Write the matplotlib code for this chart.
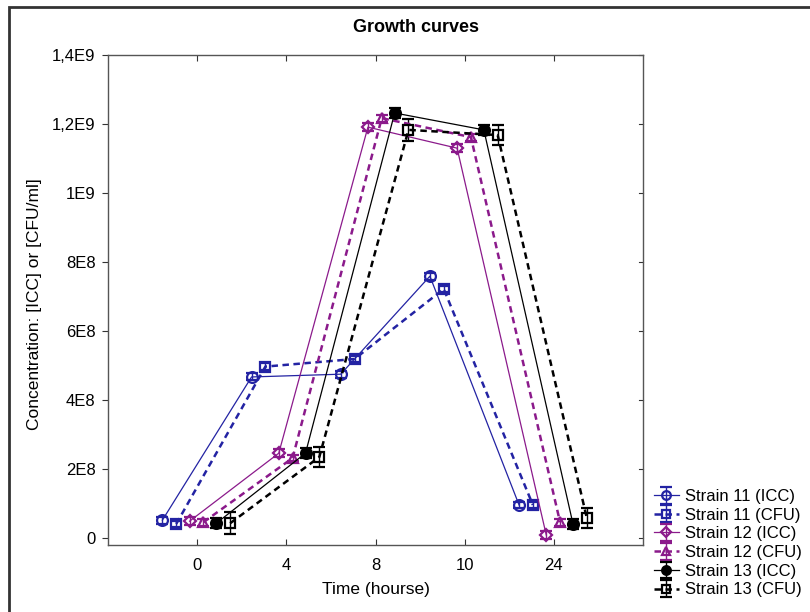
import matplotlib
matplotlib.use("Agg")
import matplotlib.pyplot as plt
from matplotlib.patches import Rectangle
import numpy as np

plt.rcParams['font.family'] = ['Liberation Sans', 'DejaVu Sans']

# Sampling times (shown as evenly spaced categories)
time_labels = ["0", "4", "8", "10", "24"]

# Y axis ticks and their labels (comma decimal)
y_ticks = [0, 2e8, 4e8, 6e8, 8e8, 1e9, 1.2e9, 1.4e9]
y_tick_labels = ["0", "2E8", "4E8", "6E8", "8E8", "1E9", "1,2E9", "1,4E9"]

# Concentrations per strain and method
s11_icc = [5.2e7, 4.67e8, 4.75e8, 7.59e8, 9.6e7]
s11_cfu = [4.1e7, 4.97e8, 5.19e8, 7.22e8, 9.6e7]
s12_icc = [4.9e7, 2.46e8, 1.191e9, 1.130e9, 9e6]
s12_cfu = [4.6e7, 2.32e8, 1.217e9, 1.162e9, 4.6e7]
s13_icc = [4.3e7, 2.46e8, 1.232e9, 1.183e9, 4.1e7]
s13_cfu = [4.3e7, 2.35e8, 1.183e9, 1.168e9, 5.8e7]

# Standard deviations
s11_icc_err = [1.0e7, 1.0e7, 1.0e7, 1.0e7, 1.0e7]
s11_cfu_err = [1.0e7, 1.0e7, 1.0e7, 1.0e7, 1.0e7]
s12_icc_err = [1.2e7, 1.2e7, 1.2e7, 1.2e7, 1.2e7]
s12_cfu_err = [1.0e7, 1.0e7, 1.0e7, 1.0e7, 1.0e7]
s13_icc_err = [1.5e7, 1.5e7, 1.5e7, 1.5e7, 1.5e7]
s13_cfu_err = [3.2e7, 3.0e7, 3.2e7, 2.9e7, 3.0e7]

series_names = ["Strain 11 (ICC)", "Strain 11 (CFU)", "Strain 12 (ICC)",
                "Strain 12 (CFU)", "Strain 13 (ICC)", "Strain 13 (CFU)"]

BLUE = "#2323a3"
PURPLE = "#8b1a8b"
BLACK = "#000000"

series = [
    (s11_icc, s11_icc_err, dict(color=BLUE, marker="o", mfc="none", ls="-", lw=0.9), -0.39),
    (s11_cfu, s11_cfu_err, dict(color=BLUE, marker="s", mfc="none", ls=(0, (2.6, 1.8)), lw=1.8), -0.235),
    (s12_icc, s12_icc_err, dict(color=PURPLE, marker="D", mfc="none", ls="-", lw=0.9, ms=6.5), -0.085),
    (s12_cfu, s12_cfu_err, dict(color=PURPLE, marker="^", mfc="none", ls=(0, (2.6, 1.8)), lw=1.8), 0.07),
    (s13_icc, s13_icc_err, dict(color=BLACK, marker="o", mfc=BLACK, ls="-", lw=0.9), 0.215),
    (s13_cfu, s13_cfu_err, dict(color=BLACK, marker="s", mfc="none", ls=(0, (2.6, 1.8)), lw=1.8), 0.37),
]

fig = plt.figure(figsize=(8.1, 6.12), dpi=100)
ax = fig.add_axes([108 / 810, 1 - 545 / 612, (643 - 108) / 810, (545 - 55) / 612])

base = np.arange(1, len(time_labels) + 1)
handles = []
for (vals, errs, style, off), name in zip(series, series_names):
    st = dict(style)
    ms = st.pop("ms", 7.8)
    h = ax.errorbar(base + off, vals, yerr=errs, capsize=4.5, elinewidth=1.0,
                    capthick=1.0, ms=ms, mew=1.6, label=name, **st)
    handles.append(h)

ax.set_xlim(0, 6)
ax.set_ylim(-2e7, 1.4e9)
ax.set_xticks(base)
ax.set_xticklabels(time_labels)
ax.set_yticks(y_ticks)
ax.set_yticklabels(y_tick_labels)
ax.tick_params(axis="both", labelsize=12, length=4, width=0.8, color="#333333")
ax.tick_params(axis="x", direction="in", top=True, pad=9)
ax.tick_params(axis="y", direction="out", right=False, pad=5)
# inward ticks on the right edge
for t in y_ticks:
    ax.plot([6 - 0.045, 6], [t, t], color="#333333", lw=0.8, clip_on=False)
for sp in ax.spines.values():
    sp.set_color("#555555")
    sp.set_linewidth(1.0)

ax.set_xlabel("Time (hourse)", fontsize=12.5, labelpad=7)
fig.text(35 / 810, 1 - 304 / 612, "Concentration: [ICC] or [CFU/ml]",
         rotation=90, fontsize=12.5, ha="center", va="center")
fig.text(416 / 810, 1 - 28 / 612, "Growth curves", fontsize=13,
         fontweight="bold", ha="center", va="center")

fig.legend(handles=handles, labels=series_names, loc="lower left",
           bbox_to_anchor=(647 / 810, 8 / 612), frameon=False, fontsize=12,
           labelspacing=0.22, handlelength=1.5, handletextpad=0.4,
           markerscale=0.8, borderaxespad=0)

fig.add_artist(Rectangle((9 / 810, -0.1), 1.2, 1 - 7 / 612 + 0.1,
                         transform=fig.transFigure, fill=False,
                         edgecolor="#333333", lw=2))

fig.savefig("out.png", dpi=100)
